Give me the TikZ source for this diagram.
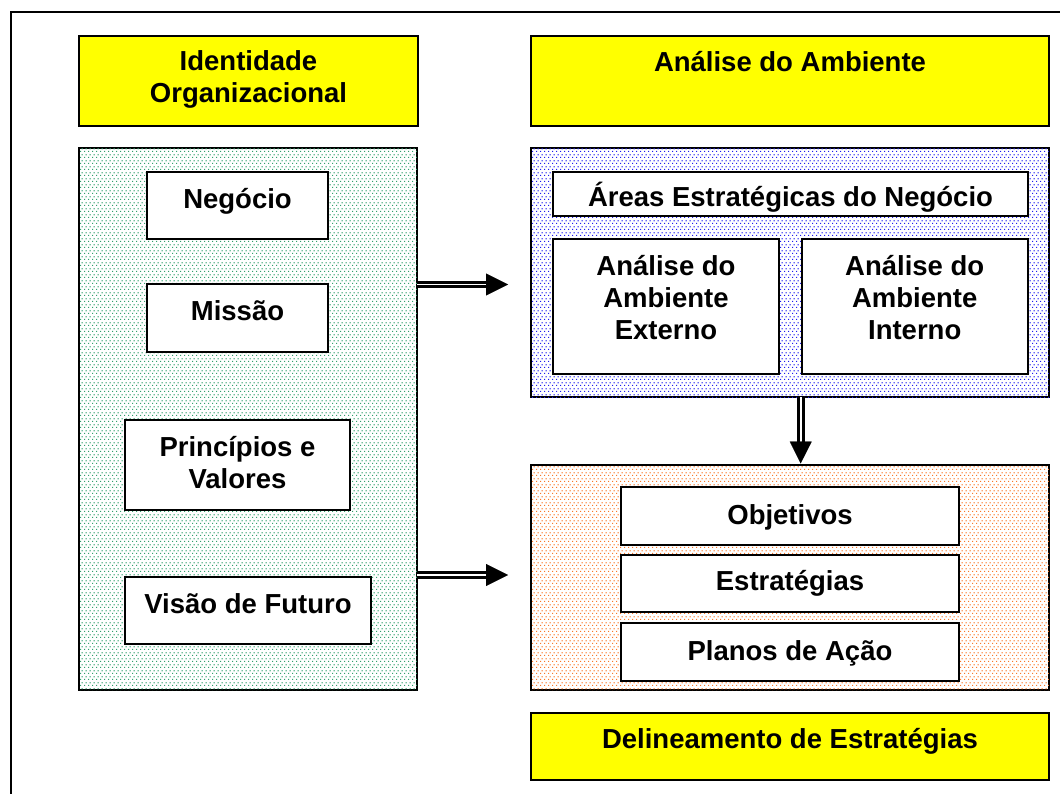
\documentclass[tikz,border=0pt]{standalone}
\usepackage{fontspec}
\setmainfont{Liberation Sans}
\usetikzlibrary{patterns.meta,arrows.meta,shadows}
\definecolor{ybox}{RGB}{255,255,0}
\definecolor{gdot}{RGB}{50,160,110}
\definecolor{bdot}{RGB}{30,30,240}
\definecolor{odot}{RGB}{250,120,40}
\pgfdeclarepattern{
  name=pixdots, type=uncolored,
  bottom left={\pgfpoint{0pt}{0pt}},
  top right={\pgfpoint{4pt}{6pt}},
  tile size={\pgfpoint{4pt}{6pt}},
  code={
    \pgfpathrectangle{\pgfpoint{0pt}{0pt}}{\pgfpoint{1.4pt}{1.4pt}}
    \pgfpathrectangle{\pgfpoint{2pt}{3pt}}{\pgfpoint{1.4pt}{1.4pt}}
    \pgfusepath{fill}
  }
}
\tikzset{
  bx/.style={draw=black, line width=1.8pt, rectangle, inner sep=0pt, outer sep=0pt,
    general shadow={fill=black!45, shadow xshift=1pt, shadow yshift=-1pt}},
  ybx/.style={bx, fill=ybox},
  wbx/.style={bx, fill=white},
  gpat/.style={bx, fill=white, postaction={pattern=pixdots, pattern color=gdot}},
  bpat/.style={bx, fill=white, postaction={pattern=pixdots, pattern color=bdot}},
  opat/.style={bx, fill=white, postaction={pattern=pixdots, pattern color=odot}},
  lbl/.style={anchor=base, inner sep=0pt, font=\fontsize{27.5}{32}\selectfont\bfseries},
  dshaft/.style={line width=3pt, double=white, double distance=1.8pt},
  dhead/.style={line width=0.4pt, -{Triangle[length=22pt,width=22pt]}},
}
\newcommand{\lines}[1]{\begin{tabular}[t]{@{}c@{}}#1\end{tabular}}
\begin{document}
\begin{tikzpicture}[x=1pt,y=-1pt]
\useasboundingbox (0,0) rectangle (1060,794);
\fill[white] (0,0) rectangle (1060,794);
% outer frame
\draw[line width=1.6pt] (11,794) -- (11,12) -- (1060,12);

% headers
\node[ybx, minimum width=339pt, minimum height=90pt] (hId) at (248.5,80.9) {};
\node[lbl] (hIdT) at ([yshift=-34.5pt]hId.north) {\lines{Identidade\\Organizacional}};
\node[ybx, minimum width=518pt, minimum height=90pt] (hAmb) at (790,80.9) {};
\node[lbl] (hAmbT) at ([yshift=-36pt]hAmb.north) {Análise do Ambiente};

% left panel
\node[gpat, minimum width=338pt, minimum height=541.7pt] (green) at (248,419.2) {};
\node[wbx, minimum width=180.4pt, minimum height=67.3pt] (neg) at (237.5,205.4) {};
\node[lbl] (negT) at ([yshift=-36.6pt]neg.north) {Negócio};
\node[wbx, minimum width=180.4pt, minimum height=67.7pt] (mis) at (237.5,318.2) {};
\node[lbl] (misT) at ([yshift=-36.6pt]mis.north) {Missão};
\node[wbx, minimum width=225pt, minimum height=90pt] (pri) at (237.5,465) {};
\node[lbl] (priT) at ([yshift=-36pt]pri.north) {\lines{Princípios e\\Valores}};
\node[wbx, minimum width=246pt, minimum height=67pt] (vis) at (248,610.5) {};
\node[lbl] (visT) at ([yshift=-36pt]vis.north) {Visão de Futuro};

% environment panel
\node[bpat, minimum width=518pt, minimum height=249pt] (blue) at (790,272.8) {};
\node[wbx, minimum width=474.4pt, minimum height=44.3pt] (areas) at (790.5,193.9) {};
\begin{scope}
\clip ([xshift=1pt,yshift=-1pt]areas.north west) rectangle ([xshift=-1pt,yshift=3pt]areas.south east);
\node[lbl] (areasT) at ([yshift=-35pt]areas.north) {Áreas Estratégicas do Negócio};
\end{scope}
\node[wbx, minimum width=225.4pt, minimum height=134.7pt] (ext) at (666,306.7) {};
\node[lbl] (extT) at ([yshift=-35.7pt]ext.north) {\lines{Análise do\\Ambiente\\Externo}};
\node[wbx, minimum width=226pt, minimum height=134.7pt] (int) at (914.7,306.7) {};
\node[lbl] (intT) at ([yshift=-35.7pt]int.north) {\lines{Análise do\\Ambiente\\Interno}};

% strategy panel
\node[opat, minimum width=518pt, minimum height=225.3pt] (orange) at (790,577.4) {};
\node[wbx, minimum width=338.6pt, minimum height=58pt] (obj) at (790,516.3) {};
\node[lbl] (objT) at ([yshift=-36.7pt]obj.north) {Objetivos};
\node[wbx, minimum width=338.6pt, minimum height=57.3pt] (est) at (790,583.7) {};
\node[lbl] (estT) at ([yshift=-35pt]est.north) {Estratégias};
\node[wbx, minimum width=338.6pt, minimum height=57.7pt] (pla) at (790,652.2) {};
\node[lbl] (plaT) at ([yshift=-36.7pt]pla.north) {Planos de Ação};

\node[ybx, minimum width=518pt, minimum height=67.3pt] (del) at (790,746.4) {};
\node[lbl] (delT) at ([yshift=-36pt]del.north) {Delineamento de Estratégias};

% arrows
\coordinate (a1s) at (green.east |- 0,284.5);
\coordinate (a1e) at (508,284.5);
\coordinate (a1b) at (486,284.5);
\draw[dshaft] (a1s) -- (a1b);
\draw[dhead] (a1b) -- (a1e);

\coordinate (a2s) at (green.east |- 0,575);
\coordinate (a2e) at (508,575);
\coordinate (a2b) at (486,575);
\draw[dshaft] (a2s) -- (a2b);
\draw[dhead] (a2b) -- (a2e);

\coordinate (a3s) at (800.7,0 |- blue.south);
\coordinate (a3e) at (800.7,463.5);
\coordinate (a3b) at (800.7,441.5);
\draw[dshaft] (a3s) -- (a3b);
\draw[dhead] (a3b) -- (a3e);
\end{tikzpicture}
\end{document}
